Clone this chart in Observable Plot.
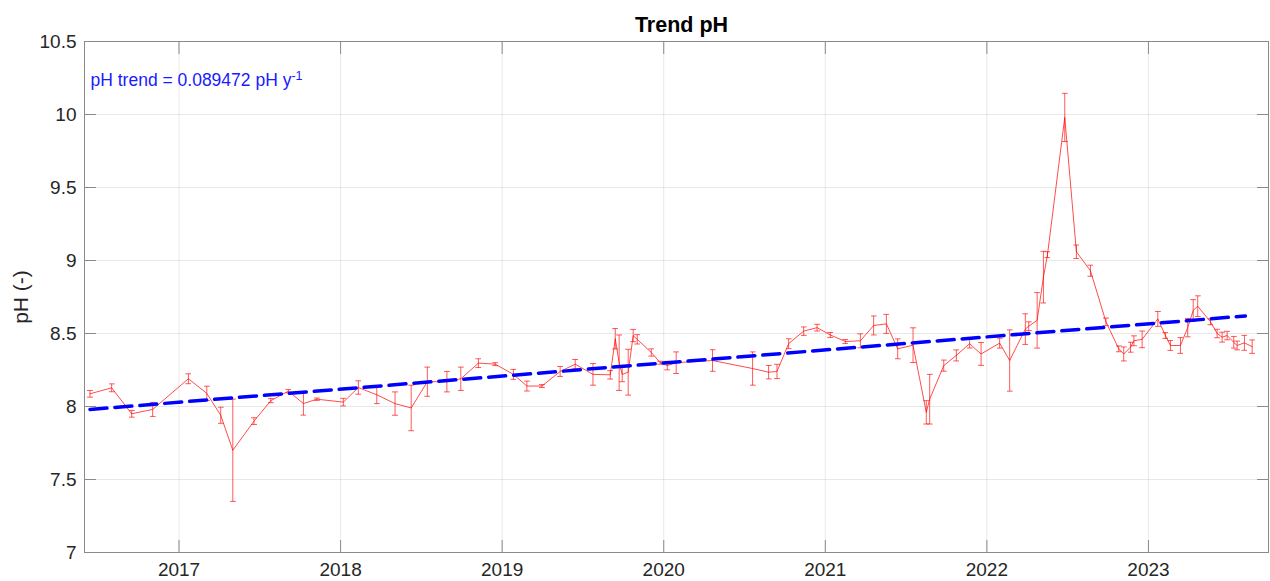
<!DOCTYPE html>
<html>
<head>
<meta charset="utf-8">
<script src="https://cdn.jsdelivr.net/npm/d3@7"></script>
<script src="https://cdn.jsdelivr.net/npm/@observablehq/plot@0.6"></script>
<style>
  html, body { margin: 0; padding: 0; background: #fff; }
  #chart svg { display: block; }
</style>
</head>
<body>
<div id="chart"></div>
<script>
// Decimal-year sample dates
const years = [
  2016.449, 2016.583, 2016.707, 2016.837, 2017.058, 2017.172, 2017.258, 2017.333, 2017.464, 2017.568,
  2017.677, 2017.770, 2017.853, 2018.017, 2018.110, 2018.224, 2018.337, 2018.437, 2018.537, 2018.658,
  2018.744, 2018.853, 2018.957, 2019.070, 2019.153, 2019.246, 2019.359, 2019.452, 2019.562, 2019.669,
  2019.700, 2019.724, 2019.743, 2019.780, 2019.811, 2019.836, 2019.923, 2019.978, 2020.022, 2020.077,
  2020.302, 2020.550, 2020.649, 2020.701, 2020.773, 2020.866, 2020.949, 2021.031, 2021.124, 2021.217,
  2021.299, 2021.378, 2021.448, 2021.543, 2021.625, 2021.646, 2021.733, 2021.811, 2021.893, 2021.964,
  2022.079, 2022.141, 2022.238, 2022.259, 2022.311, 2022.350, 2022.375, 2022.482, 2022.554, 2022.641,
  2022.737, 2022.816, 2022.847, 2022.889, 2022.910, 2022.961, 2023.058, 2023.105, 2023.136, 2023.198,
  2023.243, 2023.277, 2023.305, 2023.384, 2023.425, 2023.456, 2023.487, 2023.528, 2023.549, 2023.594,
  2023.642
];
// pH values
const phValues = [
  8.087, 8.128, 7.95, 7.98, 8.19, 8.09, 7.94, 7.70, 7.90, 8.04,
  8.105, 8.02, 8.05, 8.03, 8.13, 8.08, 8.02, 7.99, 8.17, 8.17,
  8.19, 8.297, 8.29, 8.22, 8.14, 8.14, 8.24, 8.29, 8.22, 8.217,
  8.464, 8.30, 8.22, 8.235, 8.486, 8.46, 8.37, 8.30, 8.28, 8.30,
  8.315, 8.26, 8.235, 8.24, 8.43, 8.516, 8.54, 8.49, 8.445, 8.45,
  8.555, 8.566, 8.395, 8.42, 7.96, 8.05, 8.28, 8.35, 8.43, 8.36,
  8.434, 8.315, 8.53, 8.55, 8.59, 8.886, 9.04, 9.98, 9.06, 8.93,
  8.58, 8.395, 8.36, 8.406, 8.45, 8.46, 8.60, 8.486, 8.418, 8.418,
  8.54, 8.658, 8.687, 8.58, 8.50, 8.475, 8.486, 8.44, 8.418, 8.436,
  8.41
];
// error-bar half widths (pH)
const phErrors = [
  0.023, 0.027, 0.023, 0.048, 0.034, 0.049, 0.055, 0.35, 0.023, 0.014,
  0.011, 0.079, 0.008, 0.026, 0.046, 0.06, 0.08, 0.156, 0.10, 0.07,
  0.08, 0.03, 0.01, 0.034, 0.034, 0.01, 0.034, 0.032, 0.074, 0.029,
  0.07, 0.19, 0.05, 0.157, 0.042, 0.032, 0.025, 0.01, 0.029, 0.074,
  0.074, 0.114, 0.046, 0.049, 0.034, 0.029, 0.023, 0.017, 0.014, 0.048,
  0.065, 0.065, 0.068, 0.119, 0.08, 0.17, 0.038, 0.038, 0.029, 0.078,
  0.034, 0.21, 0.105, 0.03, 0.19, 0.177, 0.02, 0.165, 0.046, 0.038,
  0.026, 0.02, 0.048, 0.034, 0.034, 0.057, 0.051, 0.02, 0.034, 0.054,
  0.063, 0.074, 0.071, 0.02, 0.029, 0.034, 0.029, 0.04, 0.03, 0.051,
  0.046
];
// linear trend end points
const trendYears = [2016.449, 2023.60];
const trendValues = [7.98, 8.62];
const trendLabel = "pH trend = 0.089472 pH y";
const trendLabelSup = "-1";

const xTicks = [2017, 2018, 2019, 2020, 2021, 2022, 2023];
const yTicks = [7, 7.5, 8, 8.5, 9, 9.5, 10, 10.5];
const titleText = "Trend pH";
const yLabel = "pH (-)";

const data = years.map((t, i) => ({t, v: phValues[i], lo: phValues[i] - phErrors[i], hi: phValues[i] + phErrors[i]}));
const trend = trendYears.map((t, i) => ({t, v: trendValues[i]}));

const axisColor = "#8a8a8a";
const textColor = "#262626";
const font = "Liberation Sans, Arial, Helvetica, sans-serif";

const chart = Plot.plot({
  width: 1270,
  height: 581,
  marginLeft: 84,
  marginRight: 2,
  marginTop: 41,
  marginBottom: 29,
  style: {fontFamily: font, fontSize: "19px", color: textColor, background: "#fff"},
  x: {type: "linear", domain: [2016.415, 2023.743]},
  y: {domain: [7, 10.5]},
  marks: [
    Plot.gridX(xTicks, {stroke: "#000", strokeOpacity: 0.09}),
    Plot.gridY(yTicks, {stroke: "#000", strokeOpacity: 0.09}),
    // error bars
    Plot.link(data, {x1: "t", x2: "t", y1: "lo", y2: "hi", stroke: "#ff0000", strokeOpacity: 0.65, strokeWidth: 1, marker: "tick"}),
    // data line
    Plot.line(data, {x: "t", y: "v", stroke: "#ff0000", strokeOpacity: 0.7, strokeWidth: 1}),
    // trend
    Plot.line(trend, {x: "t", y: "v", stroke: "#0000ff", strokeWidth: 3.5, strokeDasharray: "17,8"}),
    Plot.frame({stroke: axisColor, strokeWidth: 1}),
    // tick labels
    Plot.axisY(yTicks, {anchor: "left", tickSize: 0, tickPadding: 8, tickFormat: d => String(d), fontSize: 19, fill: textColor, label: null}),
    Plot.axisX(xTicks, {anchor: "bottom", tickSize: 0, tickPadding: 10, tickFormat: d => String(d), fontSize: 19, fill: textColor, label: null}),
    // inward ticks on all four sides
    Plot.axisY(yTicks, {anchor: "left", tickSize: 12, dx: 12, text: null, stroke: axisColor, label: null}),
    Plot.axisY(yTicks, {anchor: "right", tickSize: 12, dx: -12, text: null, stroke: axisColor, label: null}),
    Plot.axisX(xTicks, {anchor: "bottom", tickSize: 12, dy: -12, text: null, stroke: axisColor, label: null}),
    Plot.axisX(xTicks, {anchor: "top", tickSize: 12, dy: 12, text: null, stroke: axisColor, label: null}),
    // title
    Plot.text([titleText], {frameAnchor: "top", dx: 5, dy: -16, text: d => d, fontWeight: "bold", fontSize: 21.5, fill: "#000", textAnchor: "middle", lineAnchor: "middle"}),
    // y label
    Plot.text([yLabel], {frameAnchor: "left", dx: -63, rotate: -90, text: d => d, fontSize: 21, fill: textColor, textAnchor: "middle", lineAnchor: "middle"}),
    // trend annotation
    Plot.text([trendLabel], {frameAnchor: "top-left", dx: 6, dy: 39, text: d => d, fontSize: 17.5, fill: "#1a1aff", textAnchor: "start", lineAnchor: "middle"})
  ]
});
// superscript for the unit in the annotation
d3.select(chart).selectAll("text").filter(function() { return this.textContent === trendLabel; })
  .each(function() {
    d3.select(this).append("tspan").attr("dy", "-0.45em").attr("font-size", 12.5).text(trendLabelSup);
  });
document.getElementById("chart").appendChild(chart);
</script>
</body>
</html>
